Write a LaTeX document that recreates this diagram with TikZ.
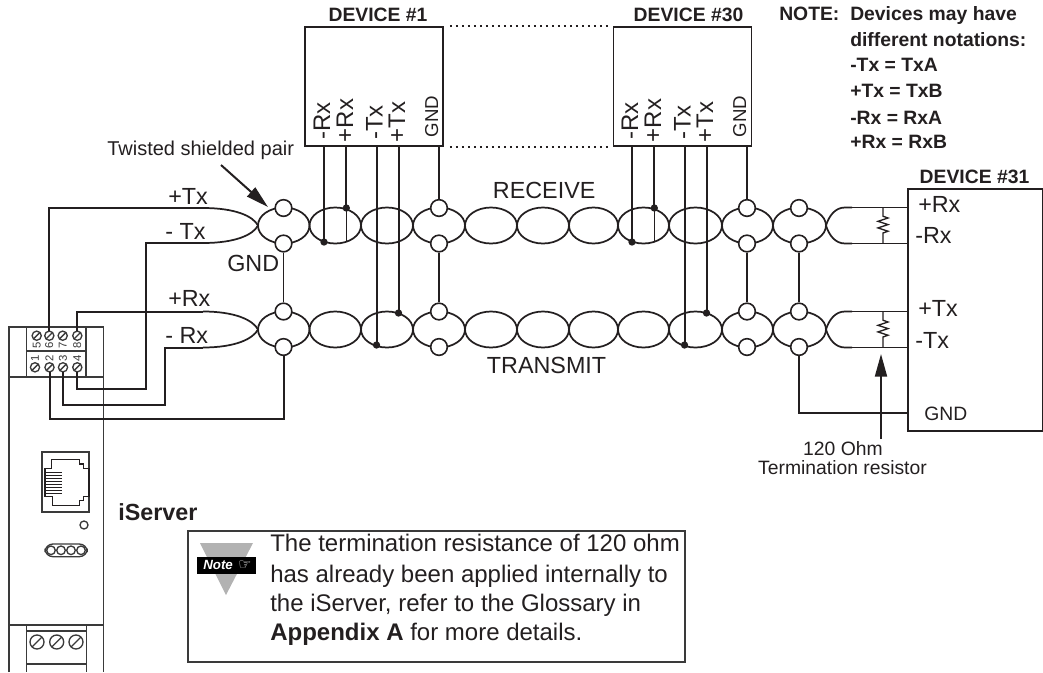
\documentclass[tikz,border=0pt]{standalone}
\usepackage{fontspec}
\setmainfont{Liberation Sans}
\newfontfamily\symfont{DejaVu Sans}
\usetikzlibrary{arrows.meta,calc}
\definecolor{ink}{HTML}{231F20}
\definecolor{thin}{HTML}{3A3A3A}
\tikzset{
  lab/.style={inner sep=0pt,text=ink,anchor=base west},
  labc/.style={inner sep=0pt,text=ink,anchor=base},
  big/.style={font=\fontsize{17.5}{20}\selectfont},
  mid/.style={font=\fontsize{14.5}{17}\selectfont},
  midb/.style={font=\fontsize{14.5}{17}\selectfont\bfseries},
  bigb/.style={font=\fontsize{17.5}{20}\selectfont\bfseries},
  notetxt/.style={font=\fontsize{18}{22}\selectfont},
  gndlab/.style={font=\fontsize{14}{17}\selectfont},
  pin/.style={inner sep=0pt,text=ink,anchor=base west,rotate=90,font=\fontsize{18}{20}\selectfont},
  devbox/.style={draw=ink,line width=1.4pt,inner sep=0pt,minimum height=89.25pt},
  wire/.style={draw=ink,line width=1.5pt},
  twist/.style={draw=ink,line width=1.3pt},
  link/.style={draw=ink,line width=1.2pt},
  shield/.style={circle,draw=ink,fill=white,line width=1.2pt,inner sep=0pt,minimum size=12.5pt},
  dot/.style={circle,fill=ink,inner sep=0pt,minimum size=5.5pt},
  case/.style={draw=thin,line width=1pt},
  numl/.style={inner sep=0pt,text=thin,rotate=90,font=\fontsize{8.5}{9}\selectfont},
  tip/.style={draw=ink,line width=1.5pt,-{Triangle[length=17pt,width=9pt]}},
  dotline/.style={draw=ink,line width=1.5pt,dash pattern=on 1.5pt off 3pt},
}
\newcommand{\screw}[3]{%
  \draw[case,fill=white] (#1,#2) circle[radius=#3];
  \draw[case] ($(#1,#2)+(-.7*#3,.7*#3)$) -- ($(#1,#2)+(.7*#3,-.7*#3)$);}
\newcommand{\zig}[3]{% x, ytop, ybottom
  \draw[ink,line width=1pt] (#1,#2) -- ++(0,8.7) -- ++(5,1.8) -- ++(-10,3.3) -- ++(10,3.3) -- ++(-10,3.3) -- ++(10,3.3) -- ++(-5,1.8) -- (#1,#3);}
\begin{document}
\begin{tikzpicture}[x=0.75pt,y=-0.75pt]
\useasboundingbox (0,0) rectangle (1043,672);

% ---------- iServer case
\draw[case] (9,672) -- (9,327) -- (103.5,327) -- (103.5,672);
\draw[case] (9,377) -- (103.5,377);
\draw[case] (26.5,327) -- (26.5,377);
\draw[case] (86,327) -- (86,377);
\draw[case] (26.5,351) -- (86,351);
\draw[case] (9,625) -- (103.5,625);
\draw[case] (26.5,625) -- (26.5,672);
\draw[case] (86.5,625) -- (86.5,672);
\draw[case] (26.5,631) -- (86.5,631);
\draw[case] (26.5,664) -- (86.5,664);
\screw{37}{642}{7}\screw{56.7}{642}{7}\screw{76}{642}{7}
% RJ45
\draw[case] (42,452) rectangle (89,512);
\draw[ink,line width=.8pt] (45,468.3) -- (51.7,468.3) -- (51.7,459.3) -- (79.3,459.3) -- (79.3,464) -- (83.3,464) -- (83.3,468.3) -- (89,468.3) -- (89,496.7) -- (83.3,496.7) -- (83.3,500.7) -- (79.3,500.7) -- (79.3,505.3) -- (52.3,505.3) -- (52.3,496.7) -- (45,496.7) -- cycle;
\foreach \yy in {472,475,478,481,484,487,490,493}
  \draw[ink,line width=.5pt] (45.7,\yy) -- (62.3,\yy);
\draw[case] (84,525) circle[radius=4];
\draw[case,rounded corners=6pt] (45,544) rectangle (87.3,556.7);
\foreach \xx in {51,61,71,81} \draw[case] (\xx,550.3) circle[radius=4.3];
\node (iserver) [lab,bigb] at (118,520) {iServer};

% terminal block
\foreach \xx/\nn in {36.7/5,49.3/6,62.7/7,77.3/8}{
  \node (t\nn) [numl] at (\xx,345) {\nn};
  \screw{\xx}{335.7}{4.6}}
\foreach \xx/\nn in {35/1,49.5/2,63/3,77.3/4}{
  \node (t\nn) [numl] at (\xx,358) {\nn};
  \screw{\xx}{367.3}{4.6}}
\coordinate (sw6) at (49.3,331);
\coordinate (sw8) at (77.3,331);
\coordinate (sw2) at (49.5,372);
\coordinate (sw3) at (63,372);
\coordinate (sw4) at (77.3,372);

% ---------- twisted pairs
\foreach \yc in {225.5,329.5}{
  \foreach \xa/\xb in {258/309.5,309.5/361,361/413,413/465,465/517,517/569,569/618,618/669,669/722,722/773,773/826}
    \draw[twist] ({(\xa+\xb)/2},\yc) ellipse[x radius={(\xb-\xa)/2},y radius=18];
}
\coordinate (ltA) at (203,208);
\coordinate (lbA) at (203,243);
\coordinate (ltB) at (203,311.5);
\coordinate (lbB) at (203,347.5);
\coordinate (xA) at (258,225.5);
\coordinate (xB) at (258,329.5);
\coordinate (rxA) at (826,225.5);
\coordinate (rxB) at (826,329.5);
\coordinate (rtA) at (852,207.5);
\coordinate (rbA) at (852,243.5);
\coordinate (rtB) at (852,311.5);
\coordinate (rbB) at (852,347.5);
\draw[twist] (ltA) .. controls (235,208) and (253,216) .. (xA) .. controls (253,235) and (235,243) .. (lbA);
\draw[twist] (ltB) .. controls (235,311.5) and (253,320) .. (xB) .. controls (253,339) and (235,347.5) .. (lbB);
\draw[twist] (rtA) -- (845,207.5) .. controls (835,207.5) and (829,216) .. (rxA) .. controls (829,235) and (835,243.5) .. (845,243.5) -- (rbA);
\draw[twist] (rtB) -- (845,311.5) .. controls (835,311.5) and (829,320) .. (rxB) .. controls (829,339) and (835,347.5) .. (845,347.5) -- (rbB);

% ---------- devices
\node (dev1) [devbox,minimum width=103.5pt] at (374,86.5) {};
\node (dev30) [devbox,minimum width=103.5pt] at (682.5,86.5) {};
\node (dev31) [devbox,minimum width=101.5pt,minimum height=181.5pt] at (975.7,310) {};
\draw[dotline] ($(dev1.north east)+(6,0)$) -- ($(dev30.north west)+(-4,0)$);
\draw[dotline] ($(dev1.south east)+(6,0)$) -- ($(dev30.south west)+(-4,0)$);

% ---------- shield circles
\foreach \xx/\nm in {283.5/a,439/b,747/c,799/d}{
  \node (s\nm1) [shield] at (\xx,208) {};
  \node (s\nm2) [shield] at (\xx,243.5) {};
  \node (s\nm3) [shield] at (\xx,311.5) {};
  \node (s\nm4) [shield] at (\xx,347) {};
}

% ---------- junction points
\foreach \nm/\xx in {1/0,30/308}{
  \node (drm\nm) [dot] at ({324+\xx},242) {};
  \node (drp\nm) [dot] at ({346.3+\xx},208) {};
  \node (dtm\nm) [dot] at ({376.5+\xx},345) {};
  \node (dtp\nm) [dot] at ({398.5+\xx},313) {};
  \coordinate (erm\nm) at ({324+\xx},146);
  \coordinate (erp\nm) at ({346.3+\xx},146);
  \coordinate (etm\nm) at ({376.5+\xx},146);
  \coordinate (etp\nm) at ({398.5+\xx},146);
  \coordinate (erpb\nm) at ({346.3+\xx},242);
  \draw[wire] (erm\nm) -- (drm\nm.center);
  \draw[wire] (erp\nm) -- (drp\nm.center);
  \draw[ink,line width=1pt] (drp\nm.center) -- (erpb\nm);
  \draw[wire] (etm\nm) -- (dtm\nm.center);
  \draw[wire] (etp\nm) -- (dtp\nm.center);
}
\coordinate (eg1) at (439,146);
\coordinate (eg30) at (747,146);
\draw[wire] (eg1) -- (sb1.north);
\draw[wire] (eg30) -- (sc1.north);
\draw[link] (sa2.south) -- (sa3.north);
\draw[link] (sb2.south) -- (sb3.north);
\draw[link] (sc2.south) -- (sc3.north);
\draw[link] (sd2.south) -- (sd3.north);

% ---------- wires to the iServer
\coordinate (c1) at (146,243);
\coordinate (c2) at (146,389);
\coordinate (c3) at (77.3,389);
\coordinate (c4) at (165,347.5);
\coordinate (c5) at (165,404.5);
\coordinate (c6) at (63,404.5);
\coordinate (c7) at (283.5,419);
\coordinate (c8) at (49.5,419);
\coordinate (c9) at (49.3,208);
\coordinate (c10) at (77.3,311.5);
\draw[wire] (ltA) -- (c9) -- (sw6);
\draw[wire] (lbA) -- (c1) -- (c2) -- (c3) -- (sw4);
\draw[wire] (ltB) -- (c10) -- (sw8);
\draw[wire] (lbB) -- (c4) -- (c5) -- (c6) -- (sw3);
\draw[wire] (sa4.south) -- (c7) -- (c8) -- (sw2);

% ---------- device 31 connections
\coordinate (b1) at (907.7,207.5);
\coordinate (b2) at (907.7,243.5);
\coordinate (b3) at (907.7,311.5);
\coordinate (b4) at (907.7,347.5);
\coordinate (b5) at (907.7,413);
\coordinate (g1) at (799,413);
\draw[link] (rtA) -- (b1);
\draw[link] (rbA) -- (b2);
\draw[link] (rtB) -- (b3);
\draw[link] (rbB) -- (b4);
\draw[link] (sd4.south) -- (g1) -- (b5);
\zig{883}{207.5}{243.5}
\zig{883}{311.5}{347.5}

% ---------- pointers
\coordinate (ta) at (881,439);
\coordinate (tb) at (881,354);
\draw[tip] (ta) -- (tb);
\coordinate (pa) at (221,165);
\coordinate (pb) at (268,207);
\draw[tip] (pa) -- (pb);

% ---------- labels
\node (lb1) [labc,midb] at (378,21.7) {DEVICE \#1};
\node (lb30) [labc,midb] at (688.5,21.7) {DEVICE \#30};
\node (lb31) [labc,midb] at (974.5,183) {DEVICE \#31};
\node (n0) [lab,midb] at (779,20.7) {NOTE:};
\node (n1) [lab,midb] at (850,20.7) {Devices may have};
\node (n2) [lab,midb] at (850,46.7) {different notations:};
\node (n3) [lab,midb] at (850,71.7) {-Tx = TxA};
\node (n4) [lab,midb] at (850,97.7) {+Tx = TxB};
\node (n5) [lab,midb] at (850,124) {-Rx = RxA};
\node (n6) [lab,midb] at (850,148.5) {+Rx = RxB};
\node (tsp) [lab,font=\fontsize{15}{17}\selectfont] at (107,155) {Twisted shielded pair};
\node (ltx1) [lab,big] at (168,204) {+Tx};
\node (ltx2) [lab,big] at (165,239.5) {- Tx};
\node (lgnd) [lab,big] at (227,271.7) {GND};
\node (lrx1) [lab,big] at (168,306) {+Rx};
\node (lrx2) [lab,big] at (165,343) {- Rx};
\node (lrc) [lab,big] at (492.7,198.7) {RECEIVE};
\node (ltr) [lab,big] at (486.7,373) {TRANSMIT};
\foreach \nm/\xx in {1/0,30/308}{
  \node (p\nm a) [pin] at ({330+\xx},140) {-Rx};
  \node (p\nm b) [pin] at ({353+\xx},142.5) {+Rx};
  \node (p\nm c) [pin] at ({382.7+\xx},140) {-Tx};
  \node (p\nm d) [pin] at ({405+\xx},142.5) {+Tx};
  \node (p\nm e) [pin,gndlab] at ({438+\xx},137.5) {GND};
}
\node (q1) [lab,big] at (918,212) {+Rx};
\node (q2) [lab,big] at (915,243) {-Rx};
\node (q3) [lab,big] at (918,316.7) {+Tx};
\node (q4) [lab,big] at (915,348) {-Tx};
\node (q5) [lab,mid] at (924,420.7) {GND};
\node (r1) [labc,mid] at (843,455) {120 Ohm};
\node (r2) [labc,mid] at (842.5,474) {Termination resistor};

% ---------- note box
\node (nbox) [draw=thin,line width=1pt,inner sep=0pt,minimum width=372.75pt,minimum height=98.25pt] at (436.5,596.5) {};
\fill[black!30] (200,543) -- (253,543) -- (226,595) -- cycle;
\node (nflag) [fill=black,inner sep=0pt,minimum width=44.25pt,minimum height=12.75pt] at (226.5,565) {};
\node (nword) [inner sep=0pt,anchor=base west,text=white,font=\fontsize{10}{11}\selectfont\bfseries\itshape] at (203,569.5) {Note};
\node (nhand) [inner sep=0pt,anchor=base west,text=white,font=\symfont\fontsize{11}{12}\selectfont] at (238,569.5) {☞};
\node (t1) [lab,notetxt] at (270,551.7) {The termination resistance of 120 ohm};
\node (t2) [lab,notetxt] at (270,582.7) {has already been applied internally to};
\node (t3) [lab,notetxt] at (270,611.7) {the iServer, refer to the Glossary in};
\node (t4) [lab,notetxt] at (270,640) {\textbf{Appendix A} for more details.};
\end{tikzpicture}
\end{document}
